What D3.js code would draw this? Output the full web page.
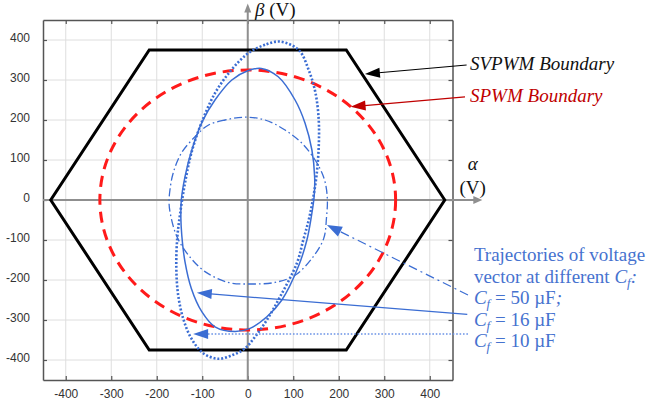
<!DOCTYPE html>
<html><head><meta charset="utf-8">
<script src="https://cdn.jsdelivr.net/npm/d3@7"></script>
<style>html,body{margin:0;padding:0;background:#fff;} svg{display:block;}</style>
</head><body><svg id="chart" width="647" height="404"></svg>
<script>
// ---------------- data ----------------
const xTickValues = [-400, -300, -200, -100, 0, 100, 200, 300, 400];
const yTickValues = [-400, -300, -200, -100, 0, 100, 200, 300, 400];
const axisDomain = [-450, 450];

// SVPWM boundary hexagon vertices (alpha, beta) in V
const svpwmHexagon = [[433, 0], [216.5, 375], [-216.5, 375], [-433, 0], [-216.5, -375], [216.5, -375]];
// SPWM boundary circle radius (V)
const spwmRadius = 325;

// voltage vector trajectories (alpha, beta)
const traj50uF = [[-6,207],[-50,200],[-87,187],[-116,158],[-146,117],[-164,67],[-171,25],[-173,-5],[-171,-29],[-157,-88],[-131,-137],[-94,-179],[-43,-206],[5,-210],[60,-206],[104,-188],[141,-146],[167,-96],[173,-45],[175,0],[171,40],[163,68],[148,100],[119,142],[82,175],[38,200]];
const traj16uF = [[30,329],[0,323],[-35,300],[-72,250],[-100,196],[-123,125],[-138,58],[-146,0],[-147,-45],[-145,-88],[-138,-154],[-124,-221],[-101,-279],[-72,-317],[-28,-329],[5,-321],[42,-292],[75,-250],[111,-167],[130,-100],[140,-40],[146,10],[147,58],[141,125],[126,192],[104,250],[67,308]];
const traj10uF = [[71,396],[38,388],[1,367],[-36,325],[-72,267],[-102,192],[-124,117],[-138,42],[-149,-37],[-155,-96],[-157,-171],[-153,-237],[-142,-296],[-124,-346],[-98,-383],[-65,-397],[-32,-387],[-6,-371],[16,-342],[42,-300],[71,-242],[108,-158],[122,-100],[134,-50],[143,0],[151,60],[156,133],[156,200],[149,267],[134,325],[112,375]];

// annotation text
const svpwmLabel = "SVPWM Boundary";
const spwmLabel = "SPWM Boundary";
const trajTitle = ["Trajectories of voltage", "vector at different "];
const cfValues = ["50", "16", "10"];

// ---------------- layout ----------------
const svg = d3.select("#chart");
const x = d3.scaleLinear().domain(axisDomain).range([43, 452.5]);
const y = d3.scaleLinear().domain(axisDomain).range([380, 20]);
const P = ([a, b]) => [x(a), y(b)];

const blue = "#3b6dd3", blueText = "#4672cf", red = "#ff1a1a", darkRed = "#c00000";
const gridCol = "#dedede", spineCol = "#555", axisGrey = "#8f8f8f";
const serif = "'Liberation Serif','Times New Roman',serif";

// grid
svg.append("g").selectAll("line").data(xTickValues).join("line")
  .attr("x1", d => x(d)).attr("x2", d => x(d)).attr("y1", y(450)).attr("y2", y(-450))
  .attr("stroke", gridCol).attr("stroke-width", 1);
svg.append("g").selectAll("line").data(yTickValues).join("line")
  .attr("y1", d => y(d)).attr("y2", d => y(d)).attr("x1", x(-450)).attr("x2", x(450))
  .attr("stroke", gridCol).attr("stroke-width", 1);

// axes (inward ticks)
function styleAxis(g) {
  g.select(".domain").attr("stroke", spineCol).attr("stroke-width", 1.5);
  g.selectAll(".tick line").attr("stroke", spineCol).attr("stroke-width", 1.2);
  g.selectAll(".tick text").attr("fill", "#333").attr("font-size", 12)
    .attr("font-family", "'Liberation Sans', Arial, sans-serif");
}
const fmt = d => d < 0 ? "-" + Math.abs(d) : String(d);
svg.append("g").attr("transform", `translate(0,${y(-450)})`)
  .call(d3.axisBottom(x).tickValues(xTickValues).tickFormat(fmt).tickSizeInner(-4).tickSizeOuter(0).tickPadding(9))
  .call(styleAxis);
svg.append("g").attr("transform", `translate(${x(-450)},0)`)
  .call(d3.axisLeft(y).tickValues(yTickValues).tickFormat(fmt).tickSizeInner(-4).tickSizeOuter(0).tickPadding(13))
  .call(styleAxis)
  .call(g => g.selectAll(".tick text").attr("dy", "0.12em"));
svg.append("g").attr("transform", `translate(0,${y(450)})`)
  .call(d3.axisTop(x).tickValues(xTickValues).tickFormat("").tickSizeInner(-4).tickSizeOuter(0))
  .call(styleAxis);
svg.append("g").attr("transform", `translate(${x(450)},0)`)
  .call(d3.axisRight(y).tickValues(yTickValues).tickFormat("").tickSizeInner(-4).tickSizeOuter(0))
  .call(styleAxis);

// arrowhead helper
function arrow(g, tail, tip, opts) {
  const [x0, y0] = tail, [x1, y1] = tip;
  const dx = x1 - x0, dy = y1 - y0, len = Math.hypot(dx, dy);
  const ux = dx / len, uy = dy / len;
  const L = opts.len || 14, W = opts.half || 5;
  const bx = x1 - ux * L, by = y1 - uy * L;
  const line = g.append("line").attr("x1", x0).attr("y1", y0).attr("x2", bx + ux * 1).attr("y2", by + uy * 1)
    .attr("stroke", opts.color).attr("stroke-width", opts.width || 1.2);
  if (opts.dash) line.attr("stroke-dasharray", opts.dash);
  if (opts.lineColor) line.attr("stroke", opts.lineColor);
  g.append("path")
    .attr("d", `M${x1},${y1}L${bx - uy * W},${by + ux * W}L${bx + uy * W},${by - ux * W}Z`)
    .attr("fill", opts.color);
}

// alpha / beta axes through origin
const axG = svg.append("g");
arrow(axG, P([-450, 0]), P([515.5, 0]), { color: axisGrey, width: 2, len: 9, half: 4 });
arrow(axG, P([0, -450]), P([0, 491.5]), { color: axisGrey, width: 2, len: 9, half: 3.5 });

// axis labels
const beta = svg.append("text").attr("x", x(16)).attr("y", y(460))
  .attr("font-family", serif).attr("font-size", 19).attr("fill", "#111");
beta.append("tspan").attr("font-style", "italic").text("β");
beta.append("tspan").text(" (V)");
svg.append("text").attr("x", x(494.5)).attr("y", y(74)).attr("text-anchor", "middle")
  .attr("font-family", serif).attr("font-size", 19).attr("font-style", "italic").attr("fill", "#111").text("α");
svg.append("text").attr("x", x(494.5)).attr("y", y(15)).attr("text-anchor", "middle")
  .attr("font-family", serif).attr("font-size", 19).attr("fill", "#111").text("(V)");

// SVPWM hexagon
svg.append("path")
  .attr("d", d3.line().x(d => x(d[0])).y(d => y(d[1])).curve(d3.curveLinearClosed)(svpwmHexagon))
  .attr("fill", "none").attr("stroke", "#000").attr("stroke-width", 3).attr("stroke-linejoin", "miter");

// SPWM circle
svg.append("ellipse")
  .attr("cx", x(0)).attr("cy", y(0))
  .attr("rx", x(spwmRadius) - x(0)).attr("ry", y(0) - y(spwmRadius))
  .attr("fill", "none").attr("stroke", red).attr("stroke-width", 3)
  .attr("stroke-dasharray", "11,7");

// trajectories
const curve = d3.line().x(d => x(d[0])).y(d => y(d[1])).curve(d3.curveCatmullRomClosed.alpha(0.5));
svg.append("path").attr("d", curve(traj50uF)).attr("fill", "none").attr("stroke", blue)
  .attr("stroke-width", 1.3).attr("stroke-dasharray", "8,3,1.6,3");
svg.append("path").attr("d", curve(traj16uF)).attr("fill", "none").attr("stroke", blue)
  .attr("stroke-width", 1.5);
svg.append("path").attr("d", curve(traj10uF)).attr("fill", "none").attr("stroke", blue)
  .attr("stroke-width", 2.6).attr("stroke-dasharray", "2,1.9");

// boundary annotations
const an = svg.append("g");
arrow(an, P([481, 337.5]), P([257.5, 315]), { color: "#000", width: 1.2, len: 15, half: 5 });
arrow(an, P([477.5, 258]), P([226, 233]), { color: darkRed, width: 1.2, len: 15, half: 5 });
svg.append("text").attr("x", x(488.5)).attr("y", y(325))
  .attr("font-family", serif).attr("font-size", 19).attr("font-style", "italic").attr("fill", "#111").text(svpwmLabel);
svg.append("text").attr("x", x(488.5)).attr("y", y(245))
  .attr("font-family", serif).attr("font-size", 19).attr("font-style", "italic").attr("fill", darkRed).text(spwmLabel);

// trajectory annotations
arrow(an, P([484, -237.5]), P([174, -62.5]), { color: blue, width: 1.2, len: 15, half: 5.5, dash: "9,4,2,4" });
arrow(an, P([482.5, -286]), P([-112, -232]), { color: blue, width: 1.2, len: 15, half: 5 });
arrow(an, P([484, -335]), P([-120, -335]), { color: blue, width: 1.5, len: 15, half: 5, dash: "1.6,1.8", lineColor: "#6b93e6" });

const tx = x(497);
const lineY = [-152.5, -206.25, -260, -313.75, -367.5];
function cfLabel(t) {
  t.append("tspan").attr("font-style", "italic").text("C");
  t.append("tspan").attr("font-style", "italic").attr("font-size", 13).attr("dy", 4).text("f");
}
const tg = svg.append("g").attr("font-family", serif).attr("font-size", 19).attr("fill", blueText);
tg.append("text").attr("x", tx).attr("y", y(lineY[0])).text(trajTitle[0]);
const l2 = tg.append("text").attr("x", tx).attr("y", y(lineY[1]));
l2.append("tspan").text(trajTitle[1]);
cfLabel(l2);
l2.append("tspan").attr("dy", -4).attr("font-style", "italic").text(":");
cfValues.forEach((v, i) => {
  const t = tg.append("text").attr("x", tx).attr("y", y(lineY[2 + i]));
  cfLabel(t);
  t.append("tspan").attr("dy", -4).text(" = " + v + " µF");
  if (i === 0) t.append("tspan").attr("font-style", "italic").text(";");
});
</script>
</body></html>
